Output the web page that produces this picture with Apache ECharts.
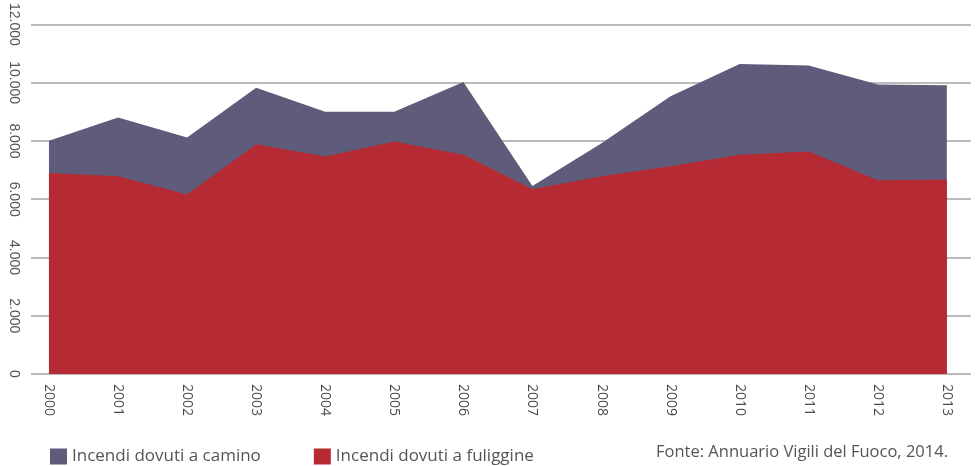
<!DOCTYPE html>
<html>
<head>
<meta charset="utf-8">
<script src="https://cdn.jsdelivr.net/npm/echarts@6/dist/echarts.min.js"></script>
<style>html,body{margin:0;padding:0;background:#fff}#c{width:976px;height:466px}</style>
</head>
<body>
<div id="c"></div>
<script>
const years = [2000,2001,2002,2003,2004,2005,2006,2007,2008,2009,2010,2011,2012,2013];
const fuliggine = [6900,6790,6165,7890,7470,7980,7525,6340,6790,7130,7525,7640,6650,6675];
const camino = [1110,2015,1950,1935,1530,1020,2495,110,1130,2400,3115,2950,3290,3235];
const yTicks = [0,2000,4000,6000,8000,10000,12000];
const nameCamino = 'Incendi dovuti a camino';
const nameFuliggine = 'Incendi dovuti a fuliggine';
const sourceText = 'Fonte: Annuario Vigili del Fuoco, 2014.';

// cumulative top of the stack (fuliggine + camino)
const totale = fuliggine.map((v, i) => v + camino[i]);

const chart = echarts.init(document.getElementById('c'));
const fmt = v => v === 0 ? '0' : String(v).replace(/\B(?=(\d{3})+(?!\d))/g, '.');
chart.setOption({
  animation: false,
  grid: {left: 31, right: 5, top: 22, bottom: 92, containLabel: false},
  legend: {
    data: [nameCamino, nameFuliggine],
    left: 45, top: 443, itemWidth: 17, itemHeight: 16, itemGap: 53,
    icon: 'rect',
    textStyle: {fontFamily: 'Open Sans', fontSize: 17, color: '#555'}
  },
  graphic: [{
    type: 'text', right: 28, top: 444,
    style: {text: sourceText, font: '16.5px "Open Sans"', fill: '#555'}
  }],
  xAxis: {
    type: 'value', min: 1999.74, max: 2013.35,
    axisLine: {show: false}, axisTick: {show: false}, splitLine: {show: false},
    axisLabel: {customValues: years, rotate: -90, formatter: v => String(Math.round(v)),
      fontFamily: 'Open Sans', fontSize: 14, color: '#4a4a4a', margin: 10}
  },
  yAxis: {
    type: 'value', min: 0, max: 12000, interval: 2000,
    axisLine: {show: false}, axisTick: {show: false},
    splitLine: {lineStyle: {color: '#a5a5a5', width: 1.5}},
    axisLabel: {rotate: -90, formatter: fmt, fontFamily: 'Liberation Sans', fontSize: 14, color: '#555', margin: 10}
  },
  series: [
    {name: nameCamino, type: 'line', symbol: 'none',
     data: years.map((y,i)=>[y, totale[i]]),
     lineStyle: {width: 0}, itemStyle: {color: '#5f5b7a'}, areaStyle: {color: '#5f5b7a', opacity: 1}},
    {name: nameFuliggine, type: 'line', symbol: 'none',
     data: years.map((y,i)=>[y, fuliggine[i]]),
     lineStyle: {width: 0}, itemStyle: {color: '#b62a34'}, areaStyle: {color: '#b62a34', opacity: 1}}
  ]
});
</script>
</body>
</html>
